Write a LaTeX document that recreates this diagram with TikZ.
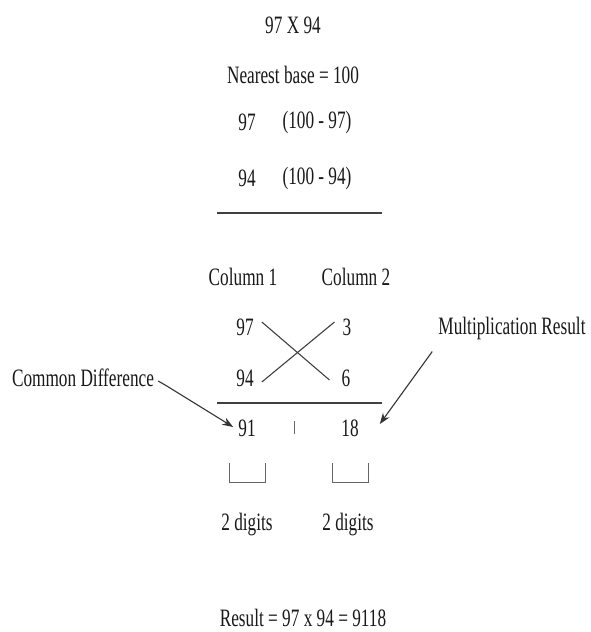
\documentclass[tikz,border=0pt]{standalone}
\usepackage{fontspec}
\setmainfont[FakeStretch=0.69]{Liberation Serif}
\usepackage{tikz}
\usetikzlibrary{arrows.meta, positioning}

\begin{document}
\begin{tikzpicture}[
    x=1pt, y=-1pt,
    txt/.style={inner sep=2pt, text=black!90, font=\fontsize{25}{29}\selectfont},
    rule/.style={draw=black!75, line width=1.5pt},
    crossline/.style={draw=black!75, line width=1.1pt},
    bracket/.style={draw=black!60, line width=1pt},
    pointer/.style={draw=black!80, line width=1.1pt, -{Stealth[length=11pt,width=8pt]}},
]
    \useasboundingbox[fill=white] (0,0) rectangle (590,632);

    % base and differences
    \node[txt] (title) at (293,25) {97 X 94};
    \node[txt] (base) at (293,75) {Nearest base = 100};
    \node[txt] (numA) at (247,122) {97};
    \node[txt] (diffA) at (317,122) {(100 - 97)};
    \node[txt] (numB) at (247,178) {94};
    \node[txt] (diffB) at (317,178) {(100 - 94)};
    \coordinate (topL) at (217,213);
    \coordinate (topR) at (382,213);
    \draw[rule] (topL) -- (topR);

    % columns
    \node[txt] (colone) at (243,277) {Column 1};
    \node[txt] (coltwo) at (356,277) {Column 2};
    \node[txt] (cA) at (245,327) {97};
    \node[txt] (cB) at (347,327) {3};
    \node[txt] (cC) at (245,378) {94};
    \node[txt] (cD) at (346,378) {6};
    \draw[crossline] ([xshift=6pt,yshift=5pt]cA.east) -- ([xshift=-10pt,yshift=-2pt]cD.west);
    \draw[crossline] ([xshift=6pt,yshift=-4pt]cC.east) -- ([xshift=-6pt,yshift=5pt]cB.west);
    \coordinate (botL) at (217,403);
    \coordinate (botR) at (382,403);
    \draw[rule] (botL) -- (botR);

    % result digits
    \node[txt] (rA) at (247,428) {91};
    \node[txt] (rB) at (350,428) {18};
    \coordinate (sepT) at (294,421);
    \coordinate (sepB) at (294,434);
    \draw[bracket] (sepT) -- (sepB);

    % side labels
    \node[txt] (cd) at (83,378) {Common Difference};
    \node[txt] (mr) at (512,328) {Multiplication Result};
    \draw[pointer] ([xshift=2pt,yshift=-3pt]cd.east) -- ++(7,4) -- ([xshift=-3pt,yshift=1pt]rA.west);
    \draw[pointer] ([xshift=-4pt,yshift=-10pt]mr.south west) -- ([xshift=19pt,yshift=4pt]rB.east);

    % digit brackets
    \foreach \x in {229,332}
        \draw[bracket] (\x,463) -- ++(0,19) -- ++(36,0) -- ++(0,-19);
    \node[txt] (dgA) at (247,525) {2 digits};
    \node[txt] (dgB) at (348,525) {2 digits};

    \node[txt] (final) at (303,618) {Result = 97 x 94 = 9118};
\end{tikzpicture}
\end{document}
